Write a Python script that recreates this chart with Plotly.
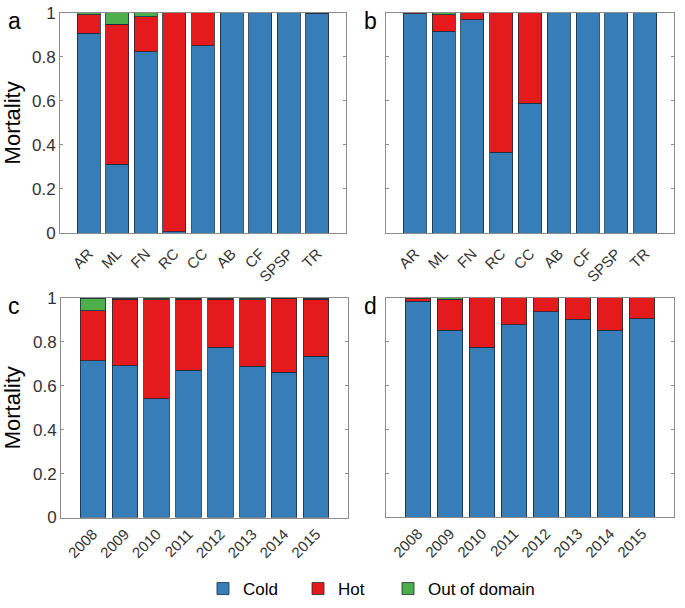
import plotly.graph_objects as go

species = ["AR", "ML", "FN", "RC", "CC", "AB", "CF", "SPSP", "TR"]
years = ["2008", "2009", "2010", "2011", "2012", "2013", "2014", "2015"]

# panel a
a_cold = [0.906, 0.311, 0.823, 0.005, 0.850, 1.0, 1.0, 1.0, 0.997]
a_hot = [0.085, 0.636, 0.159, 0.995, 0.150, 0.0, 0.0, 0.0, 0.003]
a_out = [0.009, 0.053, 0.018, 0.0, 0.0, 0.0, 0.0, 0.0, 0.0]
# panel b
b_cold = [0.995, 0.915, 0.967, 0.367, 0.588, 1.0, 1.0, 1.0, 1.0]
b_hot = [0.005, 0.076, 0.033, 0.633, 0.412, 0.0, 0.0, 0.0, 0.0]
b_out = [0.0, 0.009, 0.0, 0.0, 0.0, 0.0, 0.0, 0.0, 0.0]
# panel c
c_cold = [0.714, 0.691, 0.540, 0.672, 0.775, 0.690, 0.661, 0.734]
c_hot = [0.227, 0.304, 0.451, 0.323, 0.220, 0.301, 0.339, 0.260]
c_out = [0.059, 0.005, 0.009, 0.005, 0.005, 0.009, 0.0, 0.006]
# panel d
d_cold = [0.982, 0.851, 0.774, 0.875, 0.935, 0.900, 0.850, 0.904]
d_hot = [0.013, 0.140, 0.226, 0.125, 0.065, 0.100, 0.150, 0.096]
d_out = [0.005, 0.009, 0.0, 0.0, 0.0, 0.0, 0.0, 0.0]

series_names = ["Cold", "Hot", "Out of domain"]
colors = ["#377eb8", "#e41a1c", "#4daf4a"]
panel_labels = ["a", "b", "c", "d"]
legend_ids = ["legend", "legend2", "legend3"]
legend_x = [203, 298, 388]

W, H = 685, 608
fig = go.Figure()

panels = [
    (species, [a_cold, a_hot, a_out], (60, 346), (12.7, 233), 5),
    (species, [b_cold, b_hot, b_out], (386, 674), (12.7, 233), 5),
    (years, [c_cold, c_hot, c_out], (61, 348), (298, 517.5), 1),
    (years, [d_cold, d_hot, d_out], (386, 674), (297.5, 517), 1),
]

FONT = "Liberation Sans, Arial, sans-serif"
for i, (cats, vals, (x0, x1), (y0, y1), stand) in enumerate(panels):
    n = i + 1
    xa = "x" if n == 1 else f"x{n}"
    ya = "y" if n == 1 else f"y{n}"
    pos = list(range(1, len(cats) + 1))
    for k, (name, col) in enumerate(zip(series_names, colors)):
        fig.add_trace(go.Bar(
            x=pos, y=vals[k], name=name, marker_color=col,
            marker_line=dict(color="#1e2a38", width=0.8),
            width=0.8, xaxis=xa, yaxis=ya,
            showlegend=(i == 0), legendgroup=name, legend=legend_ids[k],
        ))
    xkey = "xaxis" if n == 1 else f"xaxis{n}"
    ykey = "yaxis" if n == 1 else f"yaxis{n}"
    fig.layout[xkey] = dict(
        domain=[x0 / W, x1 / W], anchor=ya, range=[0, len(cats) + 1],
        tickvals=pos, ticktext=cats, tickangle=-45, ticks="",
        ticklabelstandoff=stand,
        showline=True, linecolor="#8c8c8c", linewidth=1, mirror=True,
        showgrid=False, zeroline=False, automargin=False,
        tickfont=dict(family=FONT, size=15, color="#333333"),
    )
    fig.layout[ykey] = dict(
        domain=[1 - y1 / H, 1 - y0 / H], anchor=xa, range=[0, 1],
        tickvals=[0, 0.2, 0.4, 0.6, 0.8, 1], ticks="inside", ticklen=3,
        tickcolor="#8c8c8c", showline=True, linecolor="#8c8c8c", linewidth=1,
        mirror="ticks", showgrid=False, zeroline=False, automargin=False,
        showticklabels=(i % 2 == 0),
        ticktext=["0", "0.2", "0.4", "0.6", "0.8", "1"],
        tickfont=dict(family=FONT, size=17, color="#333333"),
    )
    if i % 2 == 0:
        fig.layout[ykey].title = dict(text="Mortality",
                                     font=dict(family=FONT, size=22, color="black"))
    lx = 14 if i % 2 == 0 else 370
    ly = y0 + 8
    fig.add_annotation(text=panel_labels[i], x=lx / W, y=1 - ly / H,
                       xref="paper", yref="paper", showarrow=False,
                       xanchor="center", yanchor="middle",
                       font=dict(family=FONT, size=23, color="black"))

for lid, lxp in zip(legend_ids, legend_x):
    fig.layout[lid] = dict(
        orientation="h", x=lxp / W, y=1 - 589 / H, xanchor="left",
        yanchor="middle", font=dict(family=FONT, size=17, color="black"),
        itemwidth=30, bgcolor="rgba(0,0,0,0)",
    )

fig.update_layout(
    width=W, height=H, barmode="stack", bargap=0.2,
    margin=dict(l=0, r=0, t=0, b=0, autoexpand=False),
    plot_bgcolor="white", paper_bgcolor="white",
)

fig.write_html("out.html", config={"displayModeBar": False},
               post_script="document.body.style.margin='0';document.body.style.padding='0';")
